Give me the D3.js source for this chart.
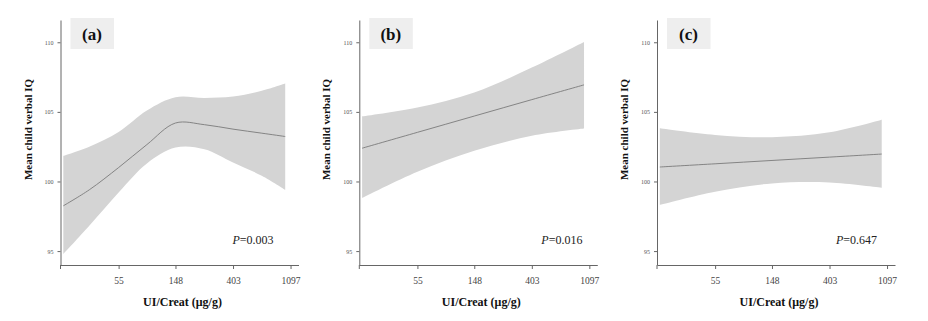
<!DOCTYPE html>
<html>
<head>
<meta charset="utf-8">
<script src="https://cdn.jsdelivr.net/npm/d3@7"></script>
<style>
  body { margin: 0; background: #fff; }
  svg { display: block; }
  .axis path, .axis line { stroke: #666; }
  .y-axis text { font-family: "Liberation Serif", serif; font-size: 6px; fill: #555; }
  .x-axis text { font-family: "Liberation Serif", serif; font-size: 9.5px; fill: #444; }
  .ax-title { font-family: "Liberation Serif", serif; font-weight: bold; fill: #111; }
</style>
</head>
<body>
<div id="chart"></div>
<script>
var xTicks = [55, 148, 403, 1097];
var yTicks = [95, 100, 105, 110];
var panelLabels = ["(a)", "(b)", "(c)"];
var pValues = ["0.003", "0.016", "0.647"];

// panel (a): spline fit
var uiA = [21, 33, 55, 90, 148, 245, 403, 665, 1000];
var fitA = [98.25, 99.4, 101.0, 102.65, 104.2, 104.08, 103.76, 103.47, 103.23];
var upperA = [101.84, 102.5, 103.56, 105.1, 106.05, 106.0, 106.1, 106.51, 107.03];
var lowerA = [94.78, 96.82, 99.21, 101.3, 102.44, 102.32, 101.36, 100.41, 99.4];

// panel (b): linear fit
var uiB = [21, 55, 148, 403, 1000];
var fitB = [102.39, 103.53, 104.7, 105.88, 106.94];
var upperB = [104.67, 105.31, 106.39, 108.18, 110.02];
var lowerB = [98.8, 100.69, 102.2, 103.28, 103.8];

// panel (c): linear fit
var uiC = [21, 55, 148, 403, 1000];
var fitC = [101.04, 101.27, 101.51, 101.75, 101.97];
var upperC = [103.82, 103.34, 103.18, 103.53, 104.43];
var lowerC = [98.32, 99.27, 99.86, 99.93, 99.55];

var width = 928, height = 321;
var plot_w = 238, plot_h = 245, plot_top = 20;

var panels = [
  { label: panelLabels[0], p: pValues[0], ui: uiA, fit: fitA, upper: upperA, lower: lowerA, left: 60.5, pX: 172 },
  { label: panelLabels[1], p: pValues[1], ui: uiB, fit: fitB, upper: upperB, lower: lowerB, left: 359.3, pX: 182 },
  { label: panelLabels[2], p: pValues[2], ui: uiC, fit: fitC, upper: upperC, lower: lowerC, left: 657, pX: 179 }
];

var svg = d3.select("#chart")
  .append("svg")
  .attr("width", width)
  .attr("height", height)
  .attr("viewBox", [0, 0, width, height]);

var x = d3.scaleLog().domain([20, 1260]).range([0, plot_w]);
var y = d3.scaleLinear().domain([94, 111.6]).range([plot_h, 0]);

panels.forEach(function (pn) {
  var g = svg.append("g").attr("transform", "translate(" + pn.left + "," + plot_top + ")");

  var rows = pn.ui.map(function (u, i) {
    return { ui: u, fit: pn.fit[i], upper: pn.upper[i], lower: pn.lower[i] };
  });

  // label box
  g.append("rect")
    .attr("x", 10)
    .attr("y", -2)
    .attr("width", 43.5)
    .attr("height", 31)
    .attr("fill", "#eeeeee");
  g.append("text")
    .attr("class", "ax-title")
    .attr("x", 31.5)
    .attr("y", 20)
    .attr("text-anchor", "middle")
    .style("font-size", "17px")
    .text(pn.label);

  // confidence band
  var band = d3.area()
    .x((d) => x(d.ui))
    .y0((d) => y(d.lower))
    .y1((d) => y(d.upper))
    .curve(d3.curveCatmullRom);
  g.append("path")
    .datum(rows)
    .attr("fill", "#d4d4d4")
    .attr("d", band);

  // fitted line
  var line = d3.line()
    .x((d) => x(d.ui))
    .y((d) => y(d.fit))
    .curve(d3.curveCatmullRom);
  g.append("path")
    .datum(rows)
    .attr("fill", "none")
    .attr("stroke", "#7a7a7a")
    .attr("stroke-width", 0.9)
    .attr("d", line);

  // axes
  g.append("g")
    .attr("class", "axis y-axis")
    .call(d3.axisLeft(y).tickValues(yTicks).tickSize(3).tickPadding(4).tickSizeOuter(0));
  g.append("line")
    .attr("x1", 0).attr("x2", 0)
    .attr("y1", y(94)).attr("y2", y(94) + 4)
    .attr("stroke", "#666");

  g.append("g")
    .attr("class", "axis x-axis")
    .attr("transform", "translate(0," + plot_h + ")")
    .call(d3.axisBottom(x).tickValues(xTicks).tickFormat(d3.format("d")).tickSize(4).tickPadding(8).tickSizeOuter(0));

  // axis titles
  g.append("text")
    .attr("class", "ax-title")
    .attr("transform", "translate(-29," + (plot_h / 2 - 13) + ") rotate(-90)")
    .attr("text-anchor", "middle")
    .style("font-size", "11px")
    .text("Mean child verbal IQ");

  g.append("text")
    .attr("class", "ax-title")
    .attr("x", 122)
    .attr("y", plot_h + 41)
    .attr("text-anchor", "middle")
    .style("font-size", "12px")
    .text("UI/Creat (μg/g)");

  // p value
  var pt = g.append("text")
    .attr("x", pn.pX)
    .attr("y", 224)
    .style("font-family", "'Liberation Serif', serif")
    .style("font-size", "12px")
    .attr("fill", "#222");
  pt.append("tspan").style("font-style", "italic").text("P");
  pt.append("tspan").text("=" + pn.p);
});
</script>
</body>
</html>
